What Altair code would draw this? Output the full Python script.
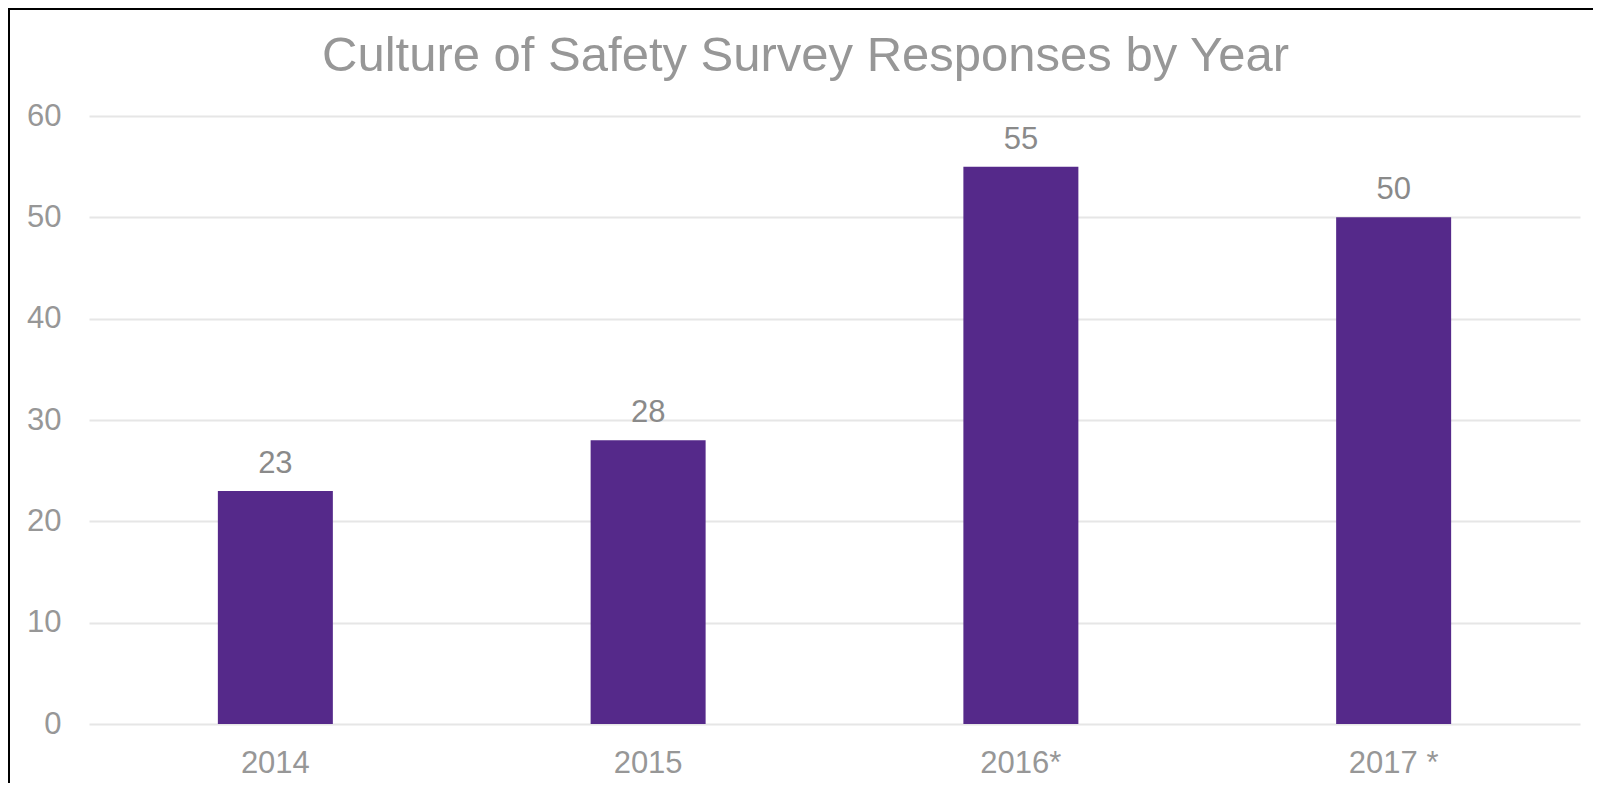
import altair as alt
import pandas as pd

years = ["2014", "2015", "2016*", "2017 *"]
responses = [23, 28, 55, 50]
y_ticks = [0, 10, 20, 30, 40, 50, 60]

df = pd.DataFrame({"year": years, "responses": responses})

FONT = "Liberation Sans"
AXIS_GRAY = "#979797"
LABEL_GRAY = "#8A8A8A"
BAR_COLOR = "#55298A"

W, H = 1491, 608
PAD = {"left": 81, "top": 108, "right": 13, "bottom": 59}

base = alt.Chart(df)

x_enc = alt.X(
    "year:N",
    sort=years,
    title=None,
    scale=alt.Scale(paddingInner=0.6915, paddingOuter=0.3457),
    axis=alt.Axis(
        domain=False,
        ticks=False,
        labelAngle=0,
        labelFont=FONT,
        labelFontSize=31,
        labelColor=AXIS_GRAY,
        labelPadding=24,
        labelBaseline="top",
    ),
)
y_enc = alt.Y(
    "responses:Q",
    title=None,
    scale=alt.Scale(domain=[0, 60], nice=False),
    axis=alt.Axis(
        values=y_ticks,
        domain=False,
        ticks=False,
        labelFont=FONT,
        labelFontSize=31,
        labelColor=AXIS_GRAY,
        labelPadding=28,
        gridColor="#E6E6E6",
        gridWidth=2,
    ),
)

bars = base.mark_bar(color=BAR_COLOR).encode(x=x_enc, y=y_enc)

labels = base.mark_text(
    font=FONT,
    fontSize=31,
    color=LABEL_GRAY,
    baseline="alphabetic",
    dy=-18,
).encode(
    x=x_enc,
    y=y_enc,
    text=alt.Text("responses:Q"),
)

# chart border (left and top edges)
border_left = alt.Chart(pd.DataFrame({"a": [0]})).mark_rule(
    color="black", strokeWidth=2
).encode(x=alt.value(-80), y=alt.value(-107), y2=alt.value(H + PAD["bottom"]))
border_top = alt.Chart(pd.DataFrame({"a": [0]})).mark_rule(
    color="black", strokeWidth=2
).encode(y=alt.value(-107), x=alt.value(-81), x2=alt.value(W + PAD["right"]))

chart = (
    alt.layer(bars, labels, border_left, border_top)
    .properties(
        width=W,
        height=H,
        padding=PAD,
        background="white",
        autosize=alt.AutoSizeParams(type="none"),
        title=alt.TitleParams(
            "Culture of Safety Survey Responses by Year",
            font=FONT,
            fontSize=49,
            fontWeight="normal",
            color=AXIS_GRAY,
            anchor="middle",
            frame="group",
            baseline="alphabetic",
            offset=-64,
            dx=-29,
            dy=48,
        ),
    )
    .configure_axis(domain=False, ticks=False)
    .configure_view(stroke=None, strokeWidth=0)
)

chart.save("out.html", embed_options={"renderer": "svg", "actions": False})
